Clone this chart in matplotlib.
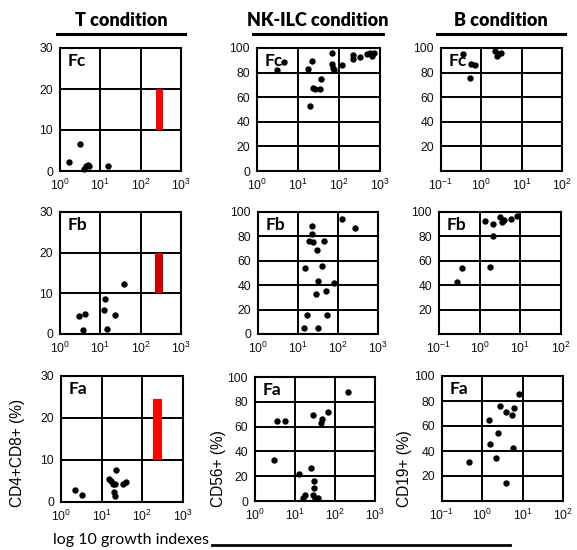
import matplotlib
matplotlib.use("Agg")
import matplotlib.pyplot as plt
from matplotlib.lines import Line2D
from matplotlib.ticker import NullLocator

plt.rcParams["font.family"] = ["Liberation Sans", "DejaVu Sans"]
plt.rcParams["mathtext.default"] = "regular"

# ---- data: growth index (x) vs. percentage of positive cells (y) ----
# T condition (CD4+CD8+ %)
t_fc_x = [1.67, 3.2, 4.0, 4.4, 4.85, 5.3, 15.8]
t_fc_y = [2.3, 6.7, 0.6, 1.3, 1.5, 1.3, 1.1]
t_fb_x = [2.9, 4.1, 3.7, 13.4, 12.4, 14.5, 23.3, 39.0]
t_fb_y = [4.4, 4.85, 0.9, 8.6, 5.8, 1.2, 4.7, 12.3]
t_fa_x = [2.2, 3.3, 22.3, 15.5, 17.4, 19.5, 21.0, 34.4, 39.3, 20.3, 21.8]
t_fa_y = [2.8, 1.6, 7.6, 5.5, 5.0, 4.3, 4.2, 4.3, 4.7, 2.5, 1.5]

# reference ranges shown as red bars (x from, x to, y from, y to)
t_fc_range = [240, 360, 10, 20]
t_fb_range = [228, 353, 10, 20]
t_fa_range = [186, 297, 10, 24.5]

# NK-ILC condition (CD56+ %)
nk_fc_x = [3.0, 4.5, 18, 22, 22.6, 25.7, 33.5, 19.5, 37.4, 69, 66, 72, 76,
           121, 225, 220, 333, 490, 630, 716, 575]
nk_fc_y = [82, 88.5, 82.6, 89.4, 67.6, 66.5, 66.5, 52.9, 75, 96, 87, 83.7, 82,
           86, 94.3, 91.3, 92.4, 95, 93.7, 95.6, 95.6]
nk_fb_x = [22.5, 22.8, 18.5, 23.7, 45.4, 29.3, 14.7, 39, 31.6, 79, 51, 28.2,
           16.5, 54, 14.4, 31.6, 127, 268]
nk_fb_y = [88.2, 81.6, 76.4, 75.6, 76.2, 68.5, 53.7, 55.9, 43.3, 41.6, 35.3,
           32.6, 15.6, 15.6, 5.2, 5.2, 94.5, 86.8]
nk_fa_x = [3.0, 3.55, 5.6, 207, 12.4, 25.6, 28.7, 48.2, 44.7, 68, 29.3, 29.3,
           27.6, 17.8, 16.2, 32.2, 38.3]
nk_fa_y = [33.2, 64.3, 64.6, 87.6, 21.9, 27, 69.7, 66.5, 63, 71.6, 16.2, 10.3,
           5.1, 5.1, 2.4, 2.4, 2.4]

# B condition (CD19+ %)
b_fc_x = [0.36, 0.546, 0.70, 0.536, 2.2, 2.42, 3.04, 2.66]
b_fc_y = [95.1, 86.8, 86.5, 75.4, 97.3, 93.8, 96, 95.1]
b_fb_x = [0.283, 0.376, 1.77, 2.18, 1.34, 2.18, 3.25, 3.5, 3.98, 5.85, 8.05]
b_fb_y = [42.9, 54, 54.6, 80.4, 92.4, 90, 95.7, 91.8, 93.5, 94.3, 96.5]
b_fa_x = [0.472, 1.44, 1.52, 2.18, 2.45, 2.79, 3.85, 5.42, 6.17, 5.62, 7.9, 3.85]
b_fa_y = [30.9, 64.8, 45.9, 34.1, 54.7, 76.3, 71.5, 68.5, 74.1, 42.4, 85.3, 14.7]

conditions = ["T condition", "NK-ILC condition", "B condition"]
fractions = ["Fc", "Fb", "Fa"]
y_titles = ["CD4+CD8+ (%)", "CD56+ (%)", "CD19+ (%)"]

t_yticks = [0, 10, 20, 30]
t_ylabels = ["0", "10", "20", "30"]
nk_yticks = [0, 20, 40, 60, 80, 100]
nk_ylabels = ["0", "20", "40", "60", "80", "100"]
b_yticks = [0, 20, 40, 60, 80, 100]
b_ylabels = ["", "20", "40", "60", "80", "100"]

t_xticks = [1, 10, 100, 1000]
t_xlabels = ["$10^{0}$", "$10^{1}$", "$10^{2}$", "$10^{3}$"]
b_xticks = [0.1, 1, 10, 100]
b_xlabels = ["$10^{-1}$", "$10^{0}$", "$10^{1}$", "$10^{2}$"]

points = {
    (0, 0): (t_fc_x, t_fc_y), (1, 0): (t_fb_x, t_fb_y), (2, 0): (t_fa_x, t_fa_y),
    (0, 1): (nk_fc_x, nk_fc_y), (1, 1): (nk_fb_x, nk_fb_y), (2, 1): (nk_fa_x, nk_fa_y),
    (0, 2): (b_fc_x, b_fc_y), (1, 2): (b_fb_x, b_fb_y), (2, 2): (b_fa_x, b_fa_y),
}
ranges = {(0, 0): t_fc_range, (1, 0): t_fb_range, (2, 0): t_fa_range}
range_colors = {(0, 0): "#ff0000", (1, 0): "#cf0000", (2, 0): "#ff0000"}

W, H = 577, 550
fig = plt.figure(figsize=(W / 100, H / 100), dpi=100)

# axes boxes in pixels: left, top, right, bottom
boxes = {
    (0, 0): (60, 48, 181, 171), (0, 1): (257, 48, 380, 171), (0, 2): (441, 48, 562, 171),
    (1, 0): (60, 212, 181, 334), (1, 1): (258, 212, 378, 334), (1, 2): (439, 212, 561, 334),
    (2, 0): (61, 376, 183, 502), (2, 1): (255, 377, 375, 501), (2, 2): (442, 376, 563, 501),
}

axes = {}
for (r, c), (l, t, rr, b) in boxes.items():
    ax = fig.add_axes([l / W, 1 - b / H, (rr - l) / W, (b - t) / H])
    axes[(r, c)] = ax
    ax.set_xscale("log")
    if c == 2:
        ax.set_xlim(0.1, 100)
        ax.set_xticks(b_xticks)
        ax.set_xticklabels(b_xlabels)
    else:
        ax.set_xlim(1, 1000)
        ax.set_xticks(t_xticks)
        ax.set_xticklabels(t_xlabels)
    ax.xaxis.set_minor_locator(NullLocator())
    if c == 0:
        ax.set_ylim(0, 30)
        ax.set_yticks(t_yticks)
        ax.set_yticklabels(t_ylabels)
    elif c == 1:
        ax.set_ylim(0, 100)
        ax.set_yticks(nk_yticks)
        ax.set_yticklabels(nk_ylabels)
    else:
        ax.set_ylim(0, 100)
        ax.set_yticks(b_yticks)
        ax.set_yticklabels(b_ylabels)
    ax.tick_params(length=0, labelsize=8.8, pad=5, colors="#111111")
    ax.grid(True, color="black", linewidth=1.4)
    ax.set_axisbelow(True)
    for s in ax.spines.values():
        s.set_linewidth(1.5)
        s.set_color("black")

    if (r, c) in ranges:
        x0, x1, y0, y1 = ranges[(r, c)]
        ax.fill_between([x0, x1], y0, y1, color=range_colors[(r, c)],
                        linewidth=0, zorder=3)

    xs, ys = points[(r, c)]
    ax.scatter(xs, ys, s=21, color="black", linewidths=0, zorder=4, clip_on=False)

    ax.text(0.06, 0.96, fractions[r], transform=ax.transAxes, ha="left", va="top",
            fontsize=12.5, fontweight="bold", family=["Lato", "DejaVu Sans"], zorder=5)

# column headings with underline
heading_spans = [(57, 185), (253, 383), (437, 565)]
for name, (x0, x1) in zip(conditions, heading_spans):
    fig.text((x0 + x1) / 2 / W, 1 - 20 / H, name, ha="center", va="center",
             fontsize=13, fontweight="heavy", family=["Lato", "DejaVu Sans"])
    fig.add_artist(Line2D([x0 / W, x1 / W], [1 - 34 / H, 1 - 34 / H],
                          color="black", linewidth=2.2))

# y-axis titles on the bottom row
ylab_x = [18, 218, 405]
for name, x in zip(y_titles, ylab_x):
    fig.text(x / W, 1 - 507 / H, name, rotation=90, ha="center", va="bottom",
             fontsize=11.2)

# shared x-axis title
fig.text(53 / W, 1 - 540 / H, "log 10 growth indexes", ha="left", va="center",
         fontsize=11.5, family=["Lato", "DejaVu Sans"])
fig.add_artist(Line2D([212 / W, 510 / W], [1 - 545 / H, 1 - 545 / H],
                      color="black", linewidth=2.0))

fig.savefig("out.png", dpi=100)
